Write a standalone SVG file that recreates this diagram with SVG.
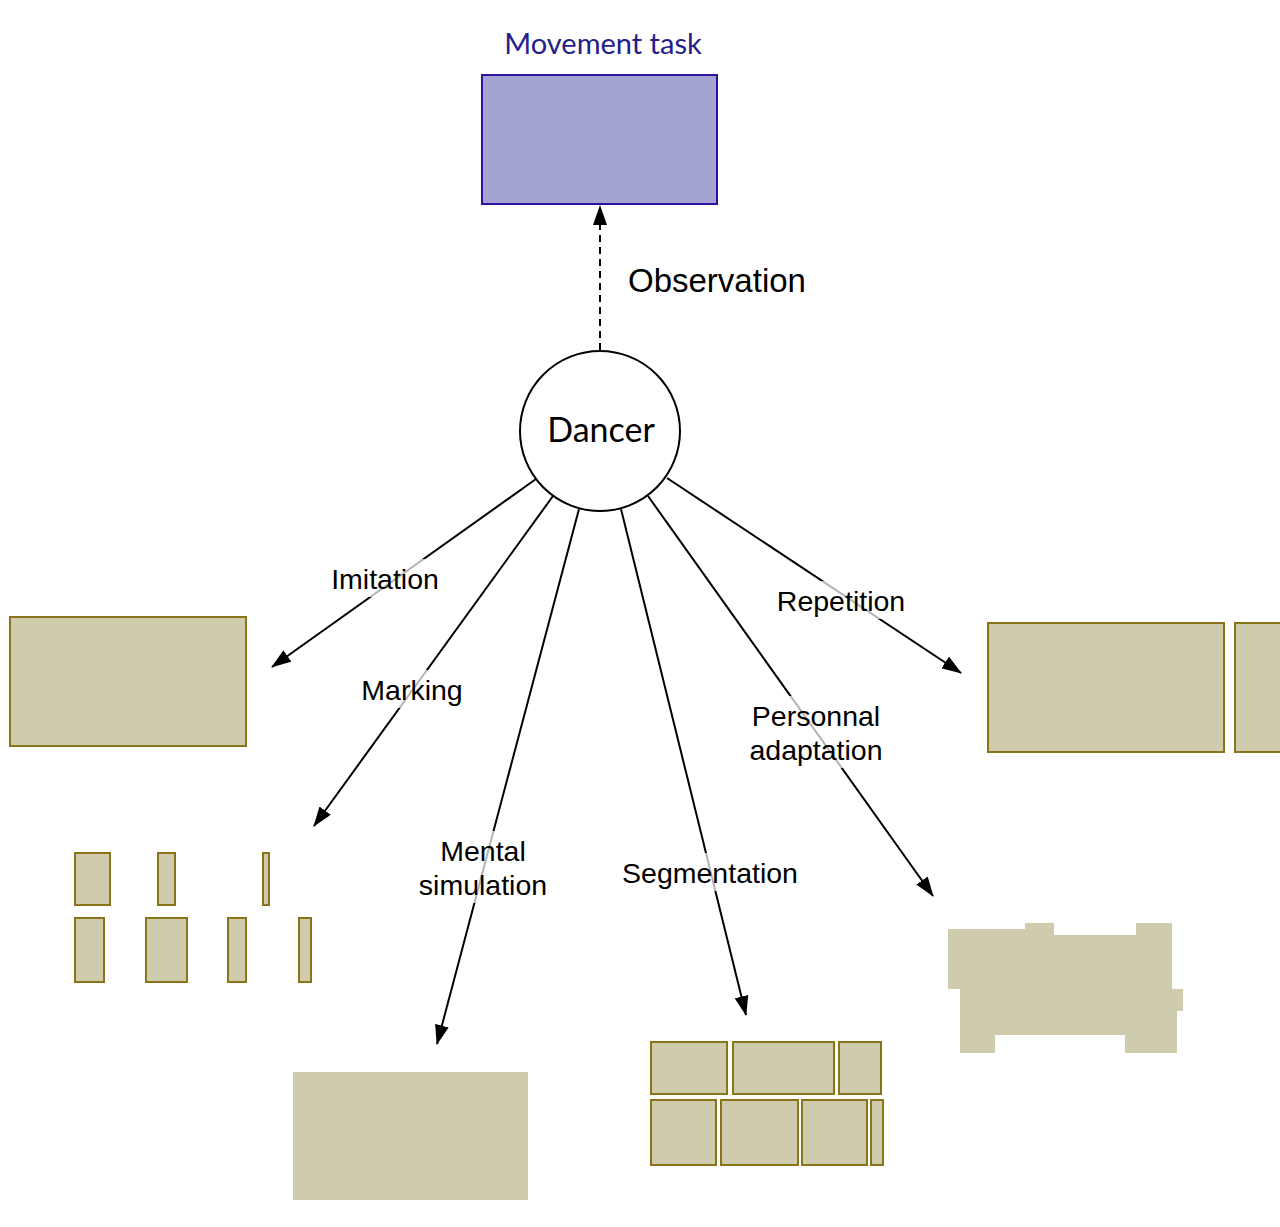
<svg xmlns="http://www.w3.org/2000/svg" width="1280" height="1227" viewBox="0 0 1280 1227">
<defs>
<marker id="ah" viewBox="0 0 20 14" refX="19" refY="7" markerWidth="20" markerHeight="14" markerUnits="userSpaceOnUse" orient="auto">
<path d="M0,0 L20,7 L0,14 z" fill="#000"/>
</marker>
<style>
.lbl{font-family:"Liberation Sans",Arial,sans-serif;font-size:28.5px;fill:#000;text-anchor:middle}
.bg{fill:#fff;opacity:0.7}
.conn{stroke:#000;stroke-width:2;fill:none}
.tan{fill:#cfcbad;stroke:#8a7318;stroke-width:2}
.tanf{fill:#cfcbad}
</style>
</defs>
<rect width="1280" height="1227" fill="#fff"/>

<g id="movement-task">
<rect x="482" y="75" width="235" height="129" fill="#a3a4d1" stroke="#2d13a0" stroke-width="2"/>
<text x="603" y="54" font-family="Lato,'Noto Sans',sans-serif" font-size="29" fill="#24208a" text-anchor="middle">Movement task</text>
</g>

<g id="dancer">
<circle cx="600" cy="431" r="80" fill="#fff" stroke="#000" stroke-width="2"/>
<text x="601" y="442" font-family="Lato,'Noto Sans',sans-serif" font-size="34" fill="#000" text-anchor="middle">Dancer</text>
</g>

<g id="imitation-target">
<rect class="tan" x="10" y="617" width="236" height="129"/>
</g>
<g id="repetition-target">
<rect class="tan" x="988" y="623" width="236" height="129"/>
<rect class="tan" x="1235" y="623" width="60" height="129"/>
</g>
<g id="marking-target">
<rect class="tan" x="75" y="853" width="35" height="52"/>
<rect class="tan" x="158" y="853" width="17" height="52"/>
<rect class="tan" x="263" y="853" width="6" height="52"/>
<rect class="tan" x="75" y="918" width="29" height="64"/>
<rect class="tan" x="146" y="918" width="41" height="64"/>
<rect class="tan" x="228" y="918" width="18" height="64"/>
<rect class="tan" x="299" y="918" width="12" height="64"/>
</g>
<g id="mental-simulation-target">
<rect class="tanf" x="293" y="1072" width="235" height="128"/>
</g>
<g id="segmentation-target">
<rect class="tan" x="651" y="1042" width="76" height="52"/>
<rect class="tan" x="733" y="1042" width="101" height="52"/>
<rect class="tan" x="839" y="1042" width="42" height="52"/>
<rect class="tan" x="651" y="1100" width="65" height="65"/>
<rect class="tan" x="721" y="1100" width="77" height="65"/>
<rect class="tan" x="802" y="1100" width="65" height="65"/>
<rect class="tan" x="871" y="1100" width="12" height="65"/>
</g>
<g id="adaptation-target">
<polygon class="tanf" points="948,929 1025,929 1025,923 1054,923 1054,935 1136,935 1136,923 1172,923 1172,989 1183,989 1183,1011 1177,1011 1177,1053 1125,1053 1125,1035 995,1035 995,1053 960,1053 960,989 948,989"/>
</g>

<g id="connectors">
<line class="conn" x1="600" y1="350" x2="600" y2="206" stroke-dasharray="7,5" marker-end="url(#ah)"/>
<line class="conn" x1="536" y1="479" x2="272" y2="667" marker-end="url(#ah)"/>
<line class="conn" x1="553" y1="496" x2="314" y2="826" marker-end="url(#ah)"/>
<line class="conn" x1="579" y1="509" x2="437" y2="1044" marker-end="url(#ah)"/>
<line class="conn" x1="621" y1="509" x2="746" y2="1015" marker-end="url(#ah)"/>
<line class="conn" x1="648" y1="496" x2="933" y2="896" marker-end="url(#ah)"/>
<line class="conn" x1="667" y1="478" x2="961" y2="673" marker-end="url(#ah)"/>
</g>

<g id="labels">
<text x="628" y="292" font-family="'Liberation Sans',Arial,sans-serif" font-size="33" fill="#000">Observation</text>

<rect class="bg" x="324" y="559" width="122" height="38"/>
<text class="lbl" x="385" y="589">Imitation</text>

<rect class="bg" x="354" y="670" width="116" height="38"/>
<text class="lbl" x="412" y="700">Marking</text>

<rect class="bg" x="411" y="831" width="144" height="72"/>
<text class="lbl" x="483" y="861">Mental</text>
<text class="lbl" x="483" y="895">simulation</text>

<rect class="bg" x="614" y="853" width="192" height="38"/>
<text class="lbl" x="710" y="883">Segmentation</text>

<rect class="bg" x="741" y="696" width="150" height="72"/>
<text class="lbl" x="816" y="726">Personnal</text>
<text class="lbl" x="816" y="760">adaptation</text>

<rect class="bg" x="770" y="581" width="142" height="38"/>
<text class="lbl" x="841" y="611">Repetition</text>
</g>
</svg>
